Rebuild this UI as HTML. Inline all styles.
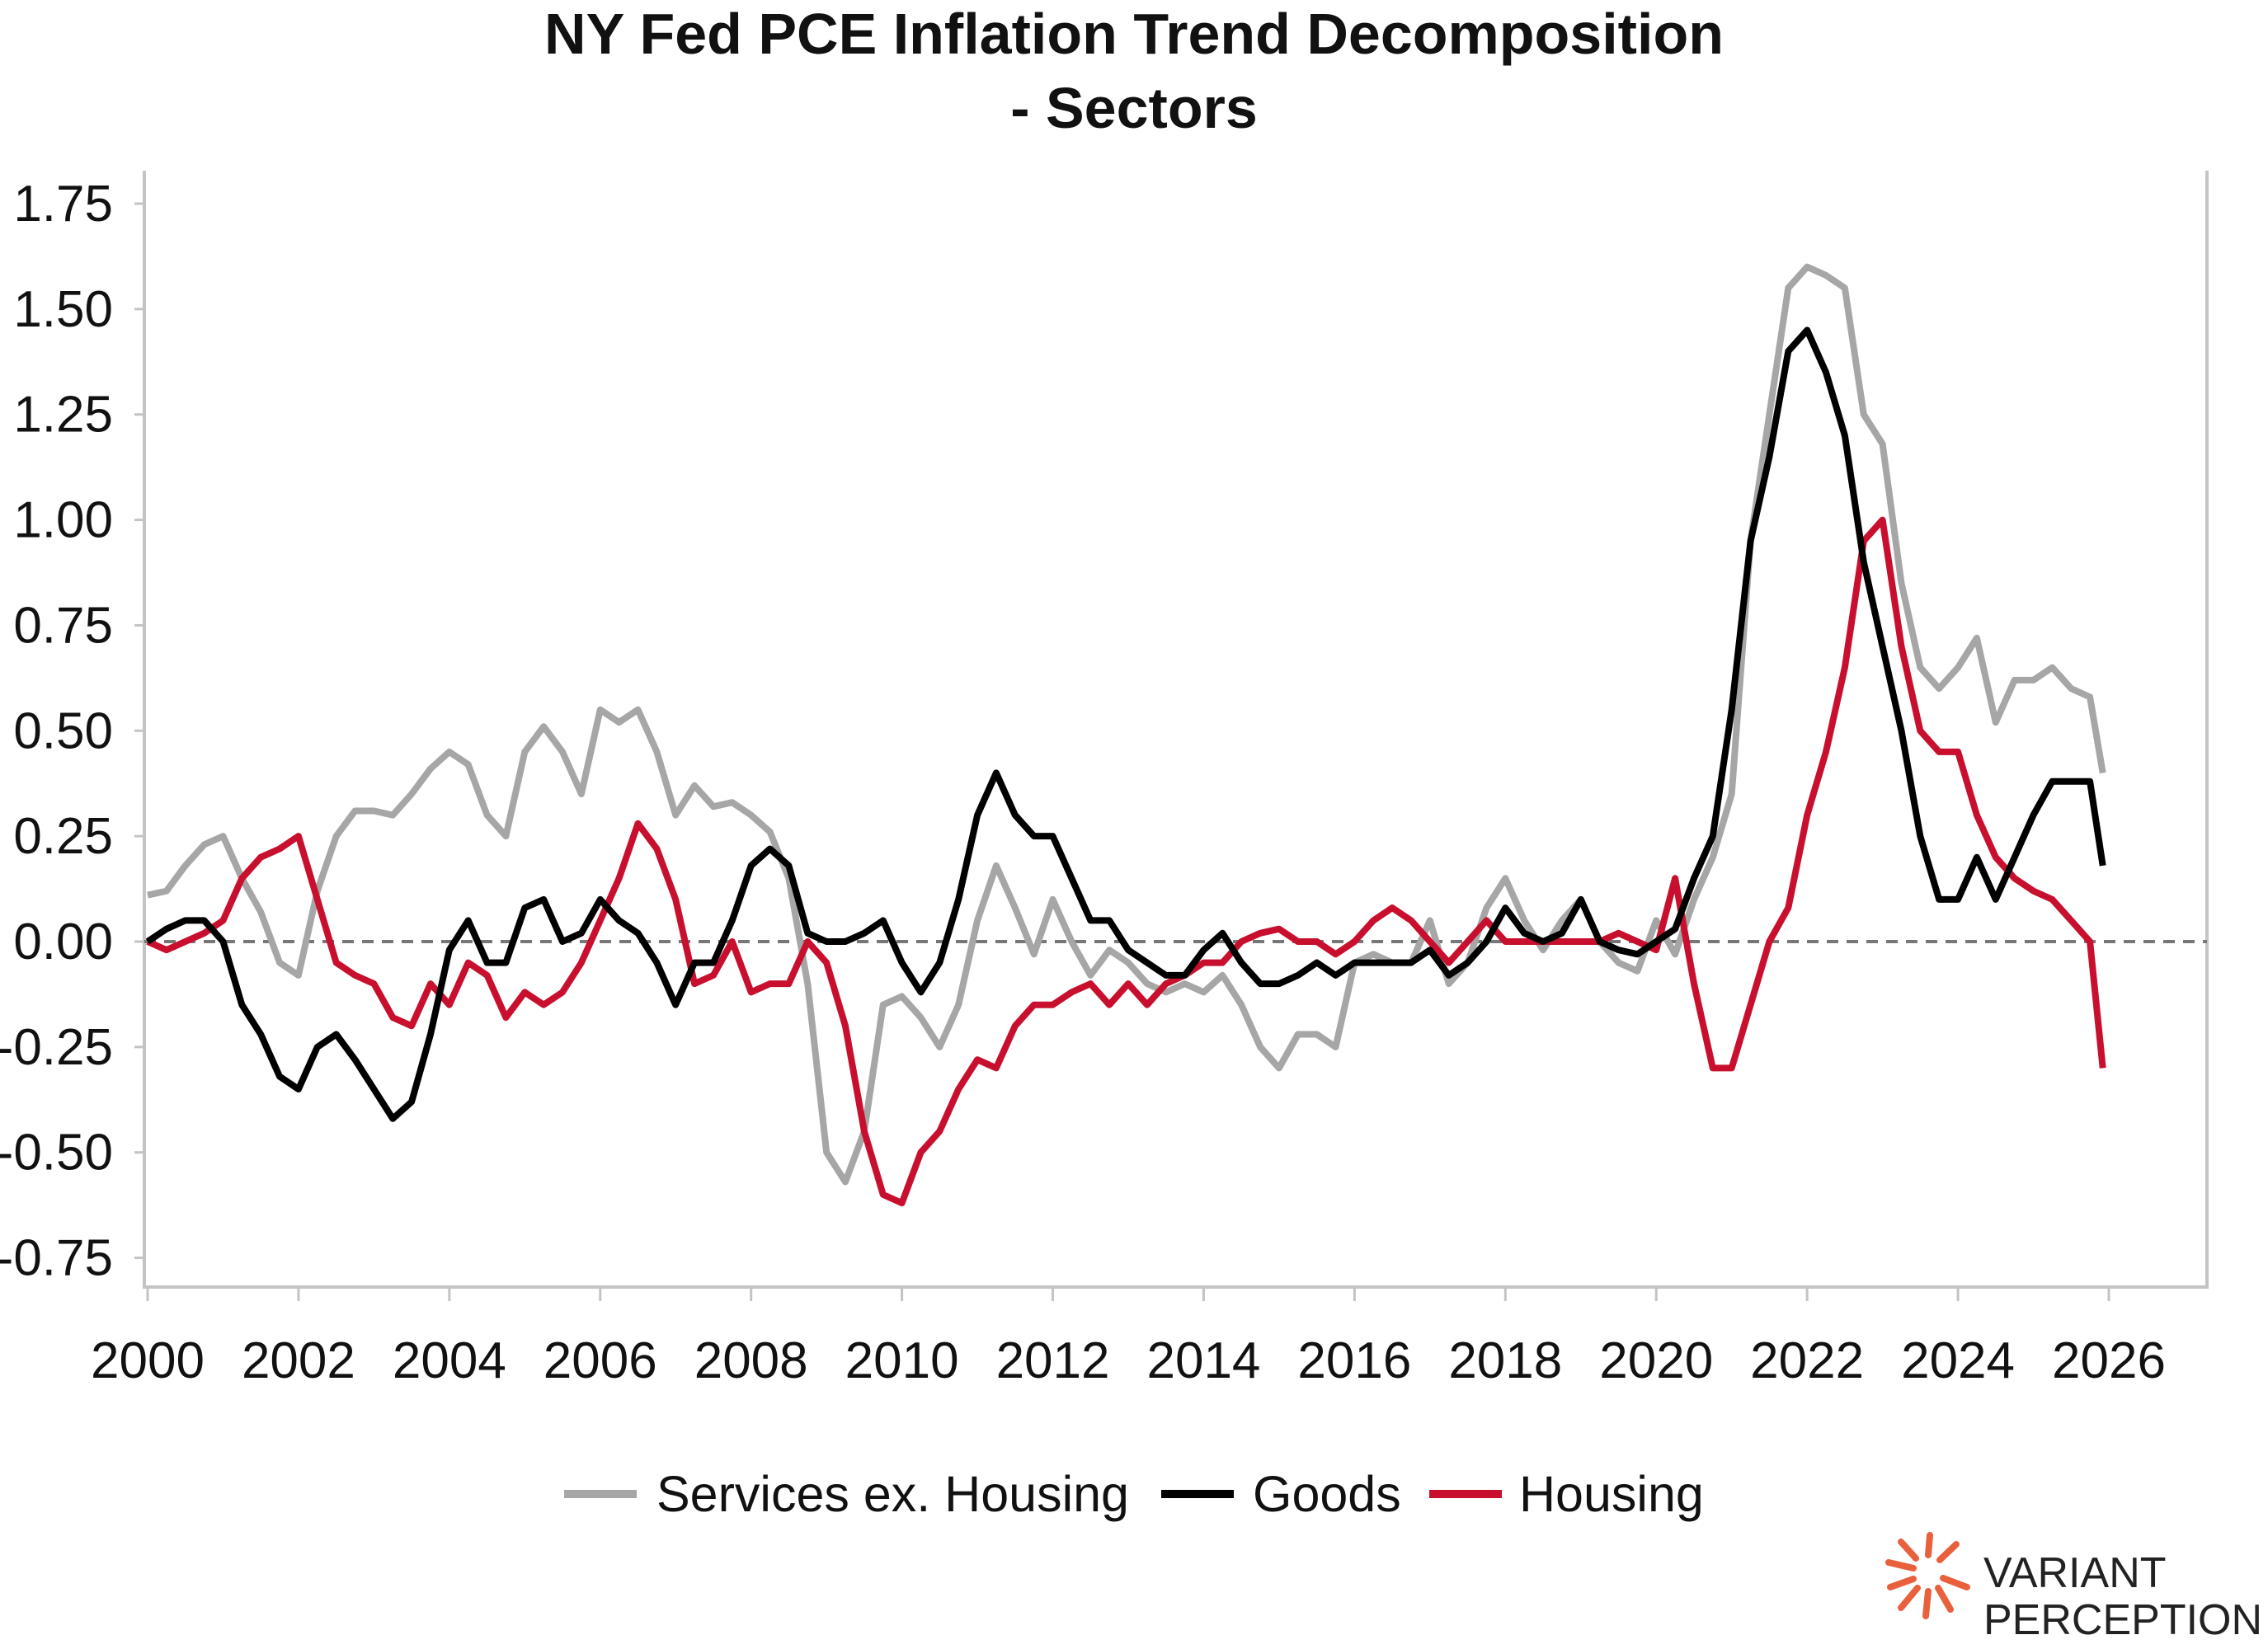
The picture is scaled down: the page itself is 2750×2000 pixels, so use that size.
<!DOCTYPE html>
<html><head><meta charset="utf-8"><style>
html,body{margin:0;padding:0;background:#fff;width:2750px;height:2000px;overflow:hidden;font-family:"Liberation Sans",sans-serif;}
</style></head><body>
<svg id="chart" width="2750" height="2000" xmlns="http://www.w3.org/2000/svg" font-family="Liberation Sans, sans-serif">
<text x="1375" y="65" text-anchor="middle" font-size="70" font-weight="bold" fill="#111">NY Fed PCE Inflation Trend Decomposition</text>
<text x="1375" y="155" text-anchor="middle" font-size="70" font-weight="bold" fill="#111">- Sectors</text>
<g id="axes"></g>
<g id="series"></g>
<g>
<line x1="684" y1="1812" x2="772" y2="1812" stroke="#a6a6a6" stroke-width="10"/>
<text x="796" y="1833" font-size="61" fill="#111">Services ex. Housing</text>
<line x1="1408" y1="1812" x2="1496" y2="1812" stroke="#000" stroke-width="10"/>
<text x="1519" y="1833" font-size="61" fill="#111">Goods</text>
<line x1="1733" y1="1812" x2="1821" y2="1812" stroke="#c8102e" stroke-width="10"/>
<text x="1842" y="1833" font-size="61" fill="#111">Housing</text>
</g>
<g>
<g stroke="#e8603c" stroke-width="8" stroke-linecap="round">
<line x1="2320" y1="1902" x2="2290" y2="1895"/><line x1="2320" y1="1915" x2="2292" y2="1925"/><line x1="2325" y1="1926" x2="2305" y2="1950"/><line x1="2338" y1="1930" x2="2335" y2="1960"/><line x1="2350" y1="1926" x2="2365" y2="1952"/><line x1="2356" y1="1914" x2="2385" y2="1925"/><line x1="2323" y1="1890" x2="2305" y2="1870"/><line x1="2338" y1="1886" x2="2340" y2="1862"/><line x1="2352" y1="1892" x2="2372" y2="1873"/>
</g>
<text x="2405" y="1925" font-size="52" fill="#222">VARIANT</text>
<text x="2405" y="1982" font-size="52" fill="#222">PERCEPTION</text>
</g>
</svg>
<script>
const yTicks=[1.75,1.5,1.25,1.0,0.75,0.5,0.25,0,-0.25,-0.5,-0.75];
const yTickLabels=["1.75","1.50","1.25","1.00","0.75","0.50","0.25","0.00","-0.25","-0.50","-0.75"];
const xTicks=[2000,2002,2004,2006,2008,2010,2012,2014,2016,2018,2020,2022,2024,2026];
const services=[0.11,0.12,0.18,0.23,0.25,0.15,0.07,-0.05,-0.08,0.12,0.25,0.31,0.31,0.30,0.35,0.41,0.45,0.42,0.30,0.25,0.45,0.51,0.45,0.35,0.55,0.52,0.55,0.45,0.30,0.37,0.32,0.33,0.30,0.26,0.15,-0.10,-0.50,-0.57,-0.45,-0.15,-0.13,-0.18,-0.25,-0.15,0.05,0.18,0.08,-0.03,0.10,0.0,-0.08,-0.02,-0.05,-0.10,-0.12,-0.10,-0.12,-0.08,-0.15,-0.25,-0.30,-0.22,-0.22,-0.25,-0.05,-0.03,-0.05,-0.05,0.05,-0.10,-0.05,0.08,0.15,0.05,-0.02,0.05,0.10,0.0,-0.05,-0.07,0.05,-0.03,0.10,0.20,0.35,0.95,1.25,1.55,1.60,1.58,1.55,1.25,1.18,0.85,0.65,0.60,0.65,0.72,0.52,0.62,0.62,0.65,0.60,0.58,0.40];
const goods=[0.0,0.03,0.05,0.05,0.0,-0.15,-0.22,-0.32,-0.35,-0.25,-0.22,-0.28,-0.35,-0.42,-0.38,-0.22,-0.02,0.05,-0.05,-0.05,0.08,0.10,0.0,0.02,0.10,0.05,0.02,-0.05,-0.15,-0.05,-0.05,0.05,0.18,0.22,0.18,0.02,0.0,0.0,0.02,0.05,-0.05,-0.12,-0.05,0.10,0.30,0.40,0.30,0.25,0.25,0.15,0.05,0.05,-0.02,-0.05,-0.08,-0.08,-0.02,0.02,-0.05,-0.10,-0.10,-0.08,-0.05,-0.08,-0.05,-0.05,-0.05,-0.05,-0.02,-0.08,-0.05,0.0,0.08,0.02,0.0,0.02,0.10,0.0,-0.02,-0.03,0.0,0.03,0.15,0.25,0.55,0.95,1.15,1.40,1.45,1.35,1.20,0.90,0.70,0.50,0.25,0.10,0.10,0.20,0.10,0.20,0.30,0.38,0.38,0.38,0.18];
const housing=[0.0,-0.02,0.0,0.02,0.05,0.15,0.20,0.22,0.25,0.10,-0.05,-0.08,-0.10,-0.18,-0.20,-0.10,-0.15,-0.05,-0.08,-0.18,-0.12,-0.15,-0.12,-0.05,0.05,0.15,0.28,0.22,0.10,-0.10,-0.08,0.0,-0.12,-0.10,-0.10,0.0,-0.05,-0.20,-0.45,-0.60,-0.62,-0.50,-0.45,-0.35,-0.28,-0.30,-0.20,-0.15,-0.15,-0.12,-0.10,-0.15,-0.10,-0.15,-0.10,-0.08,-0.05,-0.05,0.0,0.02,0.03,0.0,0.0,-0.03,0.0,0.05,0.08,0.05,0.0,-0.05,0.0,0.05,0.0,0.0,0.0,0.0,0.0,0.0,0.02,0.0,-0.02,0.15,-0.10,-0.30,-0.30,-0.15,0.0,0.08,0.30,0.45,0.65,0.95,1.0,0.70,0.50,0.45,0.45,0.30,0.20,0.15,0.12,0.10,0.05,0.0,-0.30];
const dates=services.map((_,i)=>i===services.length-1?2025.92:2000+i*0.25);

const NS="http://www.w3.org/2000/svg";
const xs=v=>179+(v-2000)*(2557-179)/26;
const ys=v=>1142-v*(1142-247)/1.75;
const axes=document.getElementById('axes');
function mk(tag,attrs,parent){const e=document.createElementNS(NS,tag);for(const k in attrs)e.setAttribute(k,attrs[k]);parent.appendChild(e);return e;}
const frame=mk('path',{d:'M175 207 V1561 H2676 V207',fill:'none',stroke:'#c4c4c4','stroke-width':4},axes);


const zl=mk('line',{x1:175,x2:2676,y1:ys(0),y2:ys(0),stroke:'#777','stroke-width':4,'stroke-dasharray':'14 10'},axes);


yTicks.forEach((t,i)=>{
 const tx=mk('text',{x:137,y:ys(t)+21,'text-anchor':'end','font-size':62,fill:'#111'},axes);
 tx.textContent=yTickLabels[i];
 
 
 mk('line',{x1:163,x2:175,y1:ys(t),y2:ys(t),stroke:'#c4c4c4','stroke-width':3},axes);
});
xTicks.forEach(t=>{
 mk('line',{x1:xs(t),x2:xs(t),y1:1561,y2:1578,stroke:'#c4c4c4','stroke-width':3},axes);
 const tx=mk('text',{x:xs(t),y:1671,'text-anchor':'middle','font-size':62,fill:'#111'},axes);
 tx.textContent=String(t);
 
 
});
const sg=document.getElementById('series');
function line(vals,color,name){
 const d=vals.map((v,i)=>(i?'L':'M')+xs(dates[i]).toFixed(1)+' '+ys(v).toFixed(1)).join(' ');
 const p=mk('path',{d:d,fill:'none',stroke:color,'stroke-width':8,'stroke-linejoin':'round'},sg);
 
 
}
line(services,'#a6a6a6','services-line');
line(housing,'#c8102e','housing-line');
line(goods,'#000','goods-line');
</script>
</body></html>
